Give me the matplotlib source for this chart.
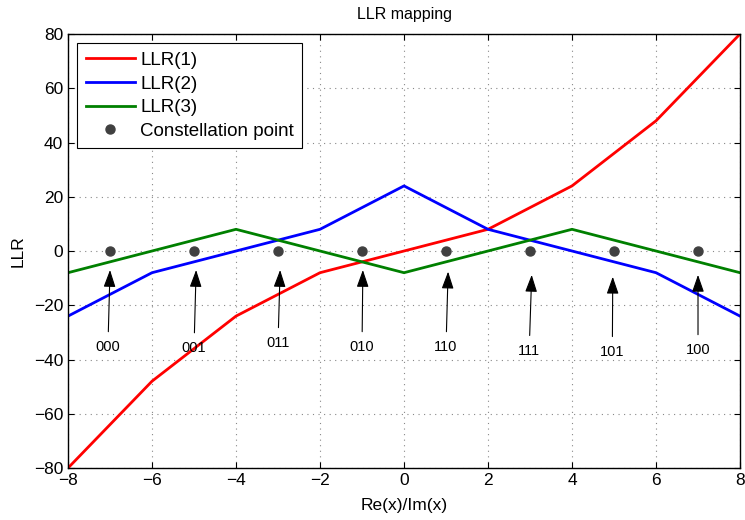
import numpy as np
import matplotlib.pyplot as plt

plt.rcParams['font.family'] = ['Liberation Sans', 'DejaVu Sans']

# piecewise-linear LLR curves
x_pts = [-8, -6, -4, -2, 0, 2, 4, 6, 8]
llr1 = [-80, -48, -24, -8, 0, 8, 24, 48, 80]
llr2 = [-24, -8, 0, 8, 24, 8, 0, -8, -24]
llr3 = [-8, 0, 8, 0, -8, 0, 8, 0, -8]

# constellation points and their bit labels
const_x = [-7, -5, -3, -1, 1, 3, 5, 7]
const_y = [0, 0, 0, 0, 0, 0, 0, 0]
bit_labels = ['000', '001', '011', '010', '110', '111', '101', '100']
label_x = [-7.05, -5.0, -3.0, -1.0, 1.0, 2.98, 4.96, 7.0]
label_y = [-35.4, -35.8, -33.9, -35.4, -35.4, -36.8, -37.2, -36.5]
tip_x = [-7.0, -4.95, -2.95, -0.98, 1.05, 3.04, 4.97, 7.0]
tip_y = [-7.0, -7.0, -7.0, -7.0, -7.6, -8.8, -9.5, -8.8]

fig = plt.figure(figsize=(7.45, 5.2), dpi=100)
ax = fig.add_axes([0.0913, 0.1, 0.902, 0.8346])

ax.plot(x_pts, llr1, color='red', lw=2, label='LLR(1)')
ax.plot(x_pts, llr2, color='blue', lw=2, label='LLR(2)')
ax.plot(x_pts, llr3, color='green', lw=2, label='LLR(3)')
ax.plot(const_x, const_y, 'o', color='#404040', ms=6.5, label='Constellation point')

for lbl, lx, ly, tx, ty in zip(bit_labels, label_x, label_y, tip_x, tip_y):
    ax.annotate(lbl, xy=(tx, ty), xytext=(lx, ly), ha='center', va='center', fontsize=10.5,
                arrowprops=dict(arrowstyle='-|>,head_length=1.0,head_width=0.35', color='black',
                                lw=0.8, shrinkA=4, shrinkB=0))

ax.set_xlim(-8, 8)
ax.set_ylim(-80, 80)
ax.set_xticks(np.arange(-8, 9, 2))
ax.set_yticks(np.arange(-80, 81, 20))
ax.tick_params(direction='in', top=True, right=True, labelsize=12.5, length=4)
ax.grid(True, linestyle=(0, (1, 4)), color='#888888', lw=0.8)
for s in ax.spines.values():
    s.set_linewidth(1)

ax.set_xlabel('Re(x)/Im(x)', fontsize=12.5, labelpad=7)
ax.set_ylabel('LLR', fontsize=12.5, labelpad=6)
ax.set_title('LLR mapping', fontsize=11.5, pad=11)

leg = ax.legend(loc='upper left', fontsize=13.5, fancybox=False, edgecolor='black',
                framealpha=1, handlelength=2.6, borderaxespad=0.5, labelspacing=0.35,
                handletextpad=0.3, borderpad=0.45)
leg.get_frame().set_linewidth(0.8)

fig.savefig('out.png', dpi=100)
